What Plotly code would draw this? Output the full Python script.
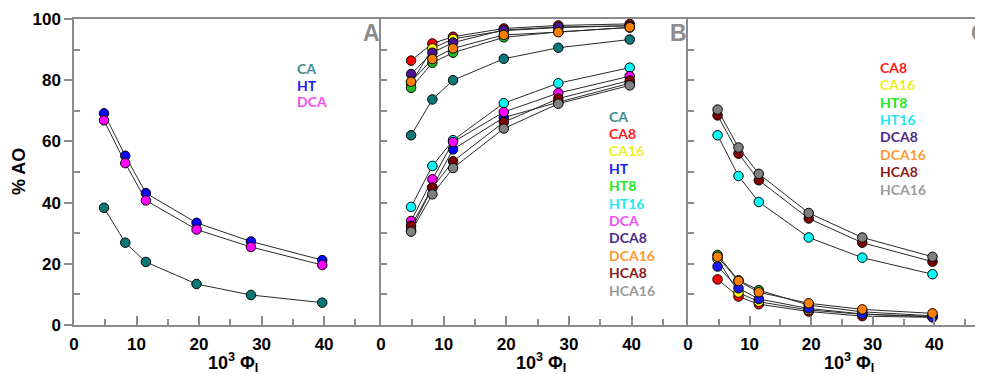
import plotly.graph_objects as go

# ---------------- data ----------------
phi = [4.8, 8.2, 11.5, 19.6, 28.3, 39.7]

# Panel A
A_CA = [38.3, 26.9, 20.6, 13.4, 9.8, 7.3]
A_HT = [69.2, 55.3, 43.1, 33.4, 27.3, 21.2]
A_DCA = [66.9, 52.9, 40.7, 31.2, 25.5, 19.6]

# Panel B
B_CA = [62.0, 73.7, 80.0, 87.0, 90.6, 93.3]
B_CA8 = [86.4, 92.0, 94.2, 96.9, 97.9, 98.4]
B_CA16 = [79.0, 90.4, 93.5, 96.2, 97.2, 97.8]
B_HT = [31.0, 45.0, 57.4, 67.8, 72.8, 79.0]
B_HT8 = [77.5, 85.7, 89.0, 94.0, 95.8, 97.2]
B_HT16 = [38.6, 52.0, 60.4, 72.5, 79.0, 84.1]
B_DCA = [34.0, 47.6, 59.8, 69.6, 75.8, 81.3]
B_DCA8 = [82.0, 89.0, 92.3, 96.4, 97.4, 97.8]
B_DCA16 = [79.5, 86.9, 90.4, 94.8, 95.7, 97.3]
B_HCA8 = [32.4, 44.9, 53.5, 66.3, 74.0, 79.9]
B_HCA16 = [30.5, 42.7, 51.3, 64.2, 72.3, 78.3]

# Panel C
C_CA8 = [14.9, 9.3, 6.8, 4.4, 2.9, 2.5]
C_CA16 = [21.5, 10.6, 7.6, 4.9, 3.5, 2.8]
C_HT8 = [22.9, 14.6, 11.4, 6.5, 4.3, 3.0]
C_HT16 = [62.0, 48.7, 40.2, 28.6, 22.0, 16.6]
C_DCA8 = [19.1, 12.0, 8.5, 5.4, 3.6, 2.6]
C_DCA16 = [22.3, 14.4, 10.7, 7.1, 5.1, 3.8]
C_HCA8 = [68.5, 56.0, 47.3, 34.8, 26.9, 20.7]
C_HCA16 = [70.4, 58.0, 49.4, 36.6, 28.6, 22.3]

x_ticks = [0, 10, 20, 30, 40]
y_ticks = [0, 20, 40, 60, 80, 100]

# ---------------- styles ----------------
marker_col = {
    "CA": "#0a7878", "CA8": "#ff0000", "CA16": "#ffff00", "HT": "#0000ff",
    "HT8": "#22bb22", "HT16": "#00ffff", "DCA": "#ff00ff", "DCA8": "#4b138c",
    "DCA16": "#ff8000", "HCA8": "#800000", "HCA16": "#808080",
}
text_col = {
    "CA": "#3d8c8c", "CA8": "#ff1a1a", "CA16": "#eeee22", "HT": "#1a1aff",
    "HT8": "#22e622", "HT16": "#22e8f0", "DCA": "#f050f0", "DCA8": "#4b2a8a",
    "DCA16": "#ff9933", "HCA8": "#8b1a1a", "HCA16": "#9a9a9a",
}

# the page body has an 8px margin: work in window pixels and shift by OFF
OFF = 8
W, H = 983 - OFF, 374 - OFF
ML, MT, MB = 74 - OFF, 19 - OFF, 374 - 325
PW = W - ML
PH = H - MT - MB


def px(x):
    return (x - OFF - ML) / PW


def py(y):
    return (H - MB - (y - OFF)) / PH


fig = go.Figure()

panels = [
    ("x", "y", [("CA", A_CA), ("HT", A_HT), ("DCA", A_DCA)]),
    ("x2", "y2", [("CA", B_CA), ("CA8", B_CA8), ("CA16", B_CA16), ("HT", B_HT),
                  ("HT8", B_HT8), ("HT16", B_HT16), ("DCA", B_DCA), ("DCA8", B_DCA8),
                  ("DCA16", B_DCA16), ("HCA8", B_HCA8), ("HCA16", B_HCA16)]),
    ("x3", "y3", [("CA8", C_CA8), ("CA16", C_CA16), ("HT8", C_HT8), ("HT16", C_HT16),
                  ("DCA8", C_DCA8), ("DCA16", C_DCA16), ("HCA8", C_HCA8), ("HCA16", C_HCA16)]),
]

for xa, ya, series in panels:
    for name, vals in series:
        col = marker_col[name]
        if xa == "x3" and name == "DCA8":
            col = "#1a1aee"
        fig.add_trace(go.Scatter(
            x=phi, y=vals, xaxis=xa, yaxis=ya, mode="lines+markers", name=name,
            showlegend=False,
            line=dict(color="#2a2a2a", width=1),
            marker=dict(size=9.5, color=col, line=dict(color="#000000", width=1)),
        ))

axcol = "#8c8c8c"
tickfont = dict(family="Liberation Sans, Arial", size=17, color="#000000", weight="bold")

doms = [(74, 381), (381, 688), (688, 983)]
xranges = [[0, 49.1], [0, 49.0], [0, 47.9]]

layout = dict(
    width=W, height=H, margin=dict(l=ML, r=0, t=MT, b=MB),
    plot_bgcolor="white", paper_bgcolor="white", showlegend=False,
)

for i in range(3):
    sfx = "" if i == 0 else str(i + 1)
    layout["xaxis" + sfx] = dict(
        domain=[max(0, px(doms[i][0])), min(1, px(doms[i][1]))], range=xranges[i],
        anchor="y" + sfx, showgrid=False, zeroline=False,
        showline=True, linecolor=axcol, linewidth=1.5, mirror=True,
        tickvals=x_ticks, ticks="inside", ticklen=9, tickcolor=axcol, tickwidth=1.5,
        minor=dict(tickvals=[5, 15, 25, 35, 45], ticks="inside", ticklen=6,
                   tickcolor=axcol, tickwidth=1.5),
        tickfont=tickfont, ticklabelstandoff=3, automargin=False,
    )
    if i == 0:
        layout["yaxis"] = dict(
            domain=[0, 1], range=[0, 100], anchor="x", showgrid=False, zeroline=False,
            showline=True, linecolor=axcol, linewidth=1.5,
            tickvals=y_ticks, ticks="outside", ticklen=8, tickcolor=axcol, tickwidth=1.5,
            minor=dict(tickvals=[10, 30, 50, 70, 90], ticks="inside", ticklen=6,
                       tickcolor=axcol, tickwidth=1.5),
            tickfont=tickfont, automargin=False,
        )
    else:
        layout["yaxis" + sfx] = dict(
            domain=[0, 1], range=[0, 100], anchor="x" + sfx, showgrid=False,
            zeroline=False, showline=True, linecolor=axcol, linewidth=1.5,
            tickvals=[10, 20, 30, 40, 50, 60, 70, 80, 90], ticks="inside", ticklen=6,
            tickcolor=axcol, tickwidth=1.5, showticklabels=False,
        )

fig.update_layout(**layout)

ann = []
# y-axis title
ann.append(dict(x=px(19), y=py(172), xref="paper", yref="paper", text="% AO",
                textangle=-90, showarrow=False, xanchor="center", yanchor="middle",
                font=dict(family="Liberation Sans, Arial", size=18, color="#000", weight="bold")))
# x-axis titles
for cx in [233, 541, 849]:
    ann.append(dict(x=px(cx), y=py(362), xref="paper", yref="paper",
                    text="10<sup>3</sup> Φ<sub>I</sub>", showarrow=False,
                    xanchor="center", yanchor="middle",
                    font=dict(family="Liberation Sans, Arial", size=18, color="#000", weight="bold")))
# panel letters
for lx, letter in [(382, "A"), (689, "B"), (990, "C")]:
    ann.append(dict(x=px(lx), y=py(33), xref="paper", yref="paper", text=letter,
                    showarrow=False, xanchor="right", yanchor="middle",
                    font=dict(family="Liberation Sans, Arial", size=23, color="#8c8c8c", weight="bold")))

# legend texts
legA = ["CA", "HT", "DCA"]
legB = ["CA", "CA8", "CA16", "HT", "HT8", "HT16", "DCA", "DCA8", "DCA16", "HCA8", "HCA16"]
legC = ["CA8", "CA16", "HT8", "HT16", "DCA8", "DCA16", "HCA8", "HCA16"]
for names, x0, y0, dy in [(legA, 295, 68.3, 16.8), (legB, 607, 116, 17.4), (legC, 878, 67.3, 17.4)]:
    for k, n in enumerate(names):
        ann.append(dict(x=px(x0), y=py(y0 + k * dy), xref="paper", yref="paper", text=n,
                        showarrow=False, xanchor="left", yanchor="middle",
                        font=dict(family="Lato", size=14, color=text_col[n], weight="bold")))

fig.update_layout(annotations=ann)
fig.write_html("out.html")
